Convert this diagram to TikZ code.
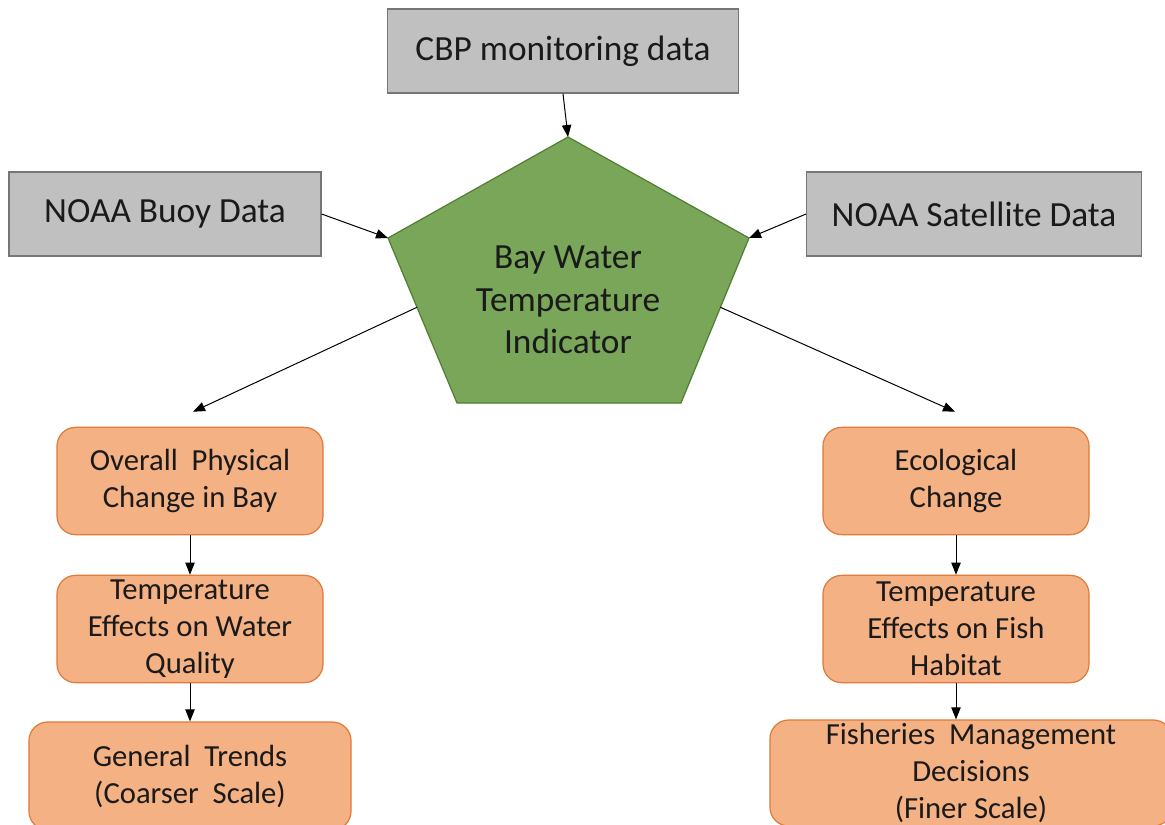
\documentclass[tikz,border=0pt]{standalone}
\usepackage{fontspec}
\setmainfont{Carlito}
\usepackage{xcolor}
\usepackage{tikz}
\usetikzlibrary{positioning, arrows.meta, calc}
\definecolor{SrcGray}{HTML}{C0C0C0}
\definecolor{SrcEdge}{HTML}{767676}
\definecolor{HubGreen}{HTML}{7AA65A}
\definecolor{HubEdge}{HTML}{507E32}
\definecolor{OutOrange}{HTML}{F4B183}
\definecolor{OutEdge}{HTML}{E0793A}
\definecolor{TextDark}{HTML}{1A1A1A}

\begin{document}
\begin{tikzpicture}[
            x=0.75pt, y=-0.75pt,
            srcbox/.style={draw=SrcEdge, line width=0.9pt, fill=SrcGray, text=TextDark, align=center, font=\fontsize{26.5}{32}\selectfont, minimum height=63pt, inner sep=0pt},
            hubtext/.style={text=TextDark, align=center, font=\fontsize{26.5}{32}\selectfont, inner sep=0pt},
            outbox/.style={draw=OutEdge, line width=0.9pt, fill=OutOrange, rounded corners=14pt, text=TextDark, align=center, font=\fontsize{23}{27.75}\selectfont, minimum width=199.5pt, minimum height=80.5pt, inner sep=0pt},
            link/.style={line width=0.75pt, -{Triangle[length=9pt, width=7pt]}}
        ]
            \useasboundingbox (0, 0) rectangle (1165, 825);
            \fill[white] (0, 0) rectangle (1165, 825);
            \clip (0, 0) rectangle (1165, 825);

            \node[srcbox, minimum width=263pt] at (563, 51) (cbp) {CBP monitoring data};

            \node[srcbox, minimum width=234pt] at (165, 214) (buoy) {NOAA Buoy Data};

            \node[srcbox, minimum width=251pt] at (974, 214) (sat) {NOAA Satellite Data};

            \coordinate (ptop) at (568, 137);
            \coordinate (pright) at (749, 238);
            \coordinate (pbr) at (681, 403);
            \coordinate (pbl) at (457, 403);
            \coordinate (pleft) at (388, 238);
            \filldraw[fill=HubGreen, draw=HubEdge, line width=0.9pt] (ptop) -- (pright) -- (pbr) -- (pbl) -- (pleft) -- cycle;
            \node[hubtext] at (568, 300) (bwt) {Bay Water\\Temperature\\Indicator};

            \node[outbox] at (190, 481) (overall) {Overall\ \ Physical\\Change in Bay};

            \node[outbox] at (190, 629) (tempwq) {Temperature\\Effects on Water\\Quality};

            \node[outbox, minimum width=241.5pt, minimum height=81pt] at (190, 776) (trends) {General\ \ Trends\\(Coarser\ \ Scale)};

            \node[outbox] at (956, 481) (eco) {Ecological\\Change};

            \node[outbox] at (956, 629) (tempfh) {Temperature\\Effects on Fish\\Habitat};

            \node[outbox, minimum width=301.5pt, minimum height=79.5pt] at (971, 773) (fisheries) {Fisheries\ \ Management\\Decisions\\(Finer Scale)};

            \coordinate (lout) at ($(pleft)!0.42!(pbl)$);
            \coordinate (rout) at ($(pright)!0.42!(pbr)$);
            \coordinate (lin) at ($(overall.north)+(3, -15)$);
            \coordinate (rin) at ($(eco.north)+(-1, -15)$);

            \draw[link] (cbp.south) -- (ptop);
            \draw[link] (buoy.east) -- (pleft);
            \draw[link] (sat.west) -- (pright);
            \draw[link] (lout) -- (lin);
            \draw[link] (rout) -- (rin);
            \draw[link] (overall) -- (tempwq);
            \draw[link] (tempwq) -- (tempwq.south |- trends.north);
            \draw[link] (eco) -- (tempfh);
            \draw[link] (tempfh) -- (tempfh.south |- fisheries.north);

        \end{tikzpicture}
\end{document}
